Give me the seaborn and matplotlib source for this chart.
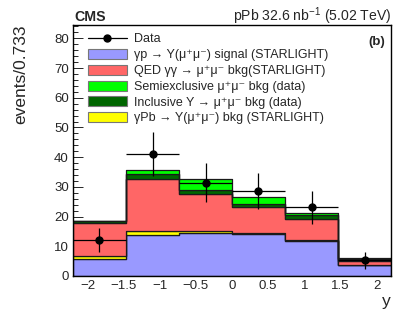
import numpy as np
import pandas as pd
import matplotlib
matplotlib.use("Agg")
import matplotlib.pyplot as plt
from matplotlib.lines import Line2D
from matplotlib.patches import Patch
from matplotlib.ticker import MultipleLocator
import seaborn as sns

# ---- data ----
bin_edges = [-2.2, -1.4667, -0.7333, 0.0, 0.7333, 1.4667, 2.2]
signal = [5.7, 13.8, 14.4, 14.1, 11.9, 3.6]          # gamma p -> Y signal
gammapb = [1.1, 1.5, 0.6, 0.3, 0.1, 0.0]             # gamma Pb -> Y bkg
qed = [10.9, 17.4, 12.5, 8.9, 7.1, 1.6]              # QED gamma gamma
inclusive = [0.7, 1.5, 1.4, 1.0, 1.3, 0.5]           # inclusive Y bkg
semiexcl = [0.2, 1.5, 3.8, 2.2, 0.7, 0.3]            # semiexclusive bkg
data_vals = [12.1, 41.0, 31.4, 28.6, 23.1, 5.3]
data_err = [3.9, 7.4, 6.6, 6.2, 5.6, 2.8]

mm = "\u03bc\u207a\u03bc\u207b"
labels = {
    "sig": "\u03b3p \u2192 Y(" + mm + ") signal (STARLIGHT)",
    "qed": "QED \u03b3\u03b3 \u2192 " + mm + " bkg(STARLIGHT)",
    "semi": "Semiexclusive " + mm + " bkg (data)",
    "incl": "Inclusive Y \u2192 " + mm + " bkg (data)",
    "gpb": "\u03b3Pb \u2192 Y(" + mm + ") bkg (STARLIGHT)",
}
colors = {"sig": "#9999ff", "gpb": "#ffff00", "qed": "#ff6666",
          "incl": "#006600", "semi": "#00ff00"}

edges = np.array(bin_edges)
centers = 0.5 * (edges[:-1] + edges[1:])
halfw = 0.5 * (edges[1:] - edges[:-1])

rows = []
for key, vals in [("sig", signal), ("gpb", gammapb), ("qed", qed),
                  ("incl", inclusive), ("semi", semiexcl)]:
    for c, v in zip(centers, vals):
        rows.append({"y": c, "w": v, "comp": key})
df = pd.DataFrame(rows)

sns.set_style("ticks")
plt.rcParams["font.family"] = ["Liberation Sans", "DejaVu Sans"]
plt.rcParams["mathtext.fontset"] = "custom"
plt.rcParams["mathtext.rm"] = "Liberation Sans"
plt.rcParams["mathtext.it"] = "Liberation Sans"

fig = plt.figure(figsize=(4.07, 3.22), dpi=100)
ax = fig.add_axes([73/407, 1-276/322, (391-73)/407, (276-25)/322])

# stacked: seaborn puts the last hue level at the bottom
sns.histplot(data=df, x="y", weights="w", hue="comp",
             hue_order=["semi", "incl", "qed", "gpb", "sig"],
             palette=colors, bins=list(bin_edges), multiple="stack", element="step",
             alpha=1, edgecolor="#1a1a1a", linewidth=0.9, legend=False, ax=ax)

ax.errorbar(centers, data_vals, xerr=halfw, yerr=data_err, fmt="o",
            color="black", ms=5, elinewidth=0.9, capsize=0, zorder=10)

ax.set_xlim(-2.2, 2.2)
ax.set_ylim(0, 84.5)
ax.xaxis.set_major_locator(MultipleLocator(0.5))
ax.xaxis.set_minor_locator(MultipleLocator(0.1))
ax.yaxis.set_major_locator(MultipleLocator(10))
ax.yaxis.set_minor_locator(MultipleLocator(2))
ax.tick_params(which="both", direction="in", labelsize=9.5, width=0.7,
               top=False, right=False)
ax.tick_params(which="major", length=7, pad=3)
ax.tick_params(which="minor", length=3.5)
ax.set_xticks([-2, -1.5, -1, -0.5, 0, 0.5, 1, 1.5, 2])
ax.set_xticklabels(["\u22122", "\u22121.5", "\u22121", "\u22120.5", "0",
                    "0.5", "1", "1.5", "2"])
for s in ax.spines.values():
    s.set_linewidth(1.0)
    s.set_color("black")

ax.set_ylabel("events/0.733", loc="top", fontsize=12.5)
ax.yaxis.set_label_coords(-0.142, 1.0)
ax.set_xlabel("y", loc="right", fontsize=12.5, labelpad=1)

fig.text(74/407, 1-21/322, "CMS", fontsize=10.2, fontweight="bold",
         ha="left", va="baseline")
fig.text(391/407, 1-21/322, "pPb 32.6 nb$^{-1}$ (5.02 TeV)",
         fontsize=10.1, ha="right", va="baseline")
ax.text(0.98, 0.955, "(b)", transform=ax.transAxes, fontsize=9.5,
        fontweight="bold", ha="right", va="top")

handles = [Line2D([0], [0], color="black", marker="o", ms=5, lw=0.9)]
names = ["Data"]
for key in ["sig", "qed", "semi", "incl", "gpb"]:
    handles.append(Patch(facecolor=colors[key], edgecolor="#777777", lw=0.8))
    names.append(labels[key])
leg = ax.legend(handles, names, loc="upper left", bbox_to_anchor=(0.022, 1.0),
                frameon=False, fontsize=9, handlelength=3.1, handleheight=0.85,
                labelspacing=0.28, handletextpad=0.55, borderaxespad=0.25)

fig.savefig("out.png", dpi=100)
